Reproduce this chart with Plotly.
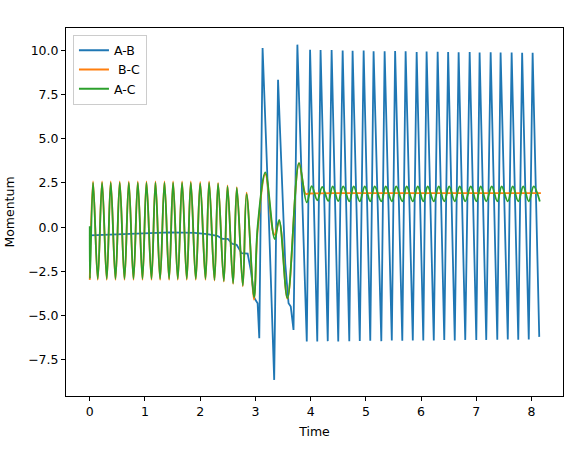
import plotly.graph_objects as go

# ---- data ----
# A-B : flat start, then large swings (extrema only)
ab_t = [0.0, 0.5, 1.0, 1.45, 1.9, 2.01, 2.13, 2.31, 2.40, 2.50, 2.58, 2.66, 2.75, 2.86, 2.92, 2.98, 3.04,
        3.07, 3.13, 3.23, 3.34, 3.41, 3.54, 3.60, 3.64, 3.69, 3.76,
        3.93, 3.99, 4.12, 4.18, 4.31, 4.38, 4.50, 4.58, 4.70, 4.76, 4.89, 4.96, 5.08, 5.14,
        5.28, 5.34, 5.47, 5.53, 5.66, 5.72, 5.85, 5.92, 6.04, 6.10, 6.23, 6.30, 6.42, 6.49,
        6.61, 6.68, 6.80, 6.88, 7.00, 7.06, 7.18, 7.26, 7.38, 7.44, 7.57, 7.64, 7.76, 7.83,
        7.95, 8.02, 8.14]
ab_v = [-0.47, -0.40, -0.36, -0.30, -0.32, -0.34, -0.40, -0.49, -0.66, -0.66, -0.94, -1.00, -1.47, -1.50, -2.50, -4.00, -4.30,
        -6.27, 10.12, 1.73, -8.63, 8.33, -2.04, -4.30, -4.49, -5.81, 10.31,
        -6.46, 10.02, -6.46, 10.00, -6.44, 10.00, -6.46, 9.98, -6.45, 9.97, -6.43, 9.98, -6.42, 9.93,
        -6.44, 9.94, -6.40, 9.95, -6.42, 9.93, -6.40, 9.90, -6.41, 9.92, -6.40, 9.91, -6.38, 9.90,
        -6.40, 9.88, -6.37, 9.90, -6.38, 9.87, -6.37, 9.88, -6.36, 9.86, -6.35, 9.86, -6.36, 9.85,
        -6.35, 9.85, -6.20]

# B-C
bc_t = [0.0, 0.060, 0.145, 0.223, 0.308, 0.380, 0.466, 0.543, 0.629, 0.707, 0.792, 0.870,
        0.955, 1.027, 1.118, 1.190, 1.274, 1.353, 1.437, 1.509, 1.594, 1.672, 1.757, 1.830,
        1.920, 2.000, 2.096, 2.161, 2.259, 2.324, 2.428, 2.495, 2.596, 2.663, 2.772, 2.839,
        2.976, 3.04, 3.18, 3.34, 3.43, 3.58, 3.79, 3.91, 3.97, 4.6, 5.6, 6.6, 7.6, 8.17]
bc_v = [-2.98, 2.58, -2.98, 2.58, -2.98, 2.58, -2.98, 2.58, -2.98, 2.58, -2.98, 2.58,
        -2.98, 2.58, -2.98, 2.58, -2.98, 2.58, -2.98, 2.58, -2.98, 2.58, -2.98, 2.58,
        -2.98, 2.55, -2.98, 2.58, -3.02, 2.50, -3.08, 2.36, -3.20, 2.26, -3.34, 1.95,
        -4.10, -0.20, 3.00, -0.44, 0.30, -4.05, 3.62, 1.88, 1.90, 1.92, 1.92, 1.92, 1.92, 1.92]

# A-C
ac_t = [0.0, 0.004, 0.060, 0.145, 0.223, 0.308, 0.380, 0.466, 0.543, 0.629, 0.707, 0.792, 0.870,
        0.955, 1.027, 1.118, 1.190, 1.274, 1.353, 1.437, 1.509, 1.594, 1.672, 1.757, 1.830,
        1.920, 2.000, 2.096, 2.161, 2.259, 2.324, 2.428, 2.495, 2.596, 2.663, 2.772, 2.839,
        2.976, 3.04, 3.18, 3.35, 3.43, 3.58, 3.79,
        3.93, 4.02, 4.12, 4.21, 4.32, 4.40, 4.50, 4.59, 4.70, 4.78, 4.89, 4.98, 5.08, 5.16,
        5.28, 5.36, 5.47, 5.55, 5.66, 5.74, 5.85, 5.94, 6.04, 6.12, 6.23, 6.32, 6.42, 6.51,
        6.61, 6.70, 6.80, 6.90, 7.00, 7.08, 7.18, 7.28, 7.38, 7.46, 7.57, 7.66, 7.76, 7.85,
        7.95, 8.04, 8.15]
ac_v = [0.05, -2.90, 2.52, -2.92, 2.52, -2.92, 2.52, -2.92, 2.52, -2.92, 2.52, -2.92, 2.52,
        -2.92, 2.52, -2.92, 2.52, -2.92, 2.52, -2.92, 2.52, -2.92, 2.52, -2.92, 2.52,
        -2.92, 2.47, -2.92, 2.52, -2.98, 2.45, -3.04, 2.30, -3.17, 2.21, -3.30, 1.87,
        -3.95, 0.03, 3.09, -0.68, 0.41, -4.01, 3.62,
        1.40, 2.32, 1.52, 2.27, 1.48, 2.30, 1.47, 2.30, 1.46, 2.30, 1.46, 2.30, 1.46, 2.30,
        1.46, 2.30, 1.46, 2.30, 1.46, 2.30, 1.46, 2.30, 1.46, 2.30, 1.46, 2.30, 1.46, 2.30,
        1.46, 2.30, 1.46, 2.30, 1.46, 2.30, 1.46, 2.30, 1.46, 2.30, 1.46, 2.30, 1.46, 2.30,
        1.46, 2.30, 1.45]

x_ticks = [0, 1, 2, 3, 4, 5, 6, 7, 8]
y_ticks = [-7.5, -5.0, -2.5, 0.0, 2.5, 5.0, 7.5, 10.0]

fig = go.Figure()
fig.add_trace(go.Scatter(x=ab_t, y=ab_v, mode='lines', name='A-B',
                         line=dict(color='#1f77b4', width=1.8)))
fig.add_trace(go.Scatter(x=bc_t, y=bc_v, mode='lines', name=' B-C',
                         line=dict(color='#ff7f0e', width=1.8, shape='spline', smoothing=1)))
fig.add_trace(go.Scatter(x=ac_t, y=ac_v, mode='lines', name='A-C',
                         line=dict(color='#2ca02c', width=1.8, shape='spline', smoothing=1)))

fsize = 12.5
axis_style = dict(showgrid=False, zeroline=False, showline=True, linecolor='black', linewidth=1,
                  mirror=True, ticks='outside', ticklen=4, tickcolor='black', automargin=False,
                  tickfont=dict(size=fsize, color='black'))

fig.update_xaxes(range=[-0.43, 8.57], tickvals=x_ticks, title_text='Time',
                 title_font=dict(size=fsize, color='black'), title_standoff=9, **axis_style)
fig.update_yaxes(range=[-9.54, 11.25], tickvals=y_ticks, tickformat='.1f', title_text='Momentum',
                 title_font=dict(size=fsize, color='black'), title_standoff=10, **axis_style)

fig.update_layout(
    width=587, height=453,
    margin=dict(l=66, r=24, t=28, b=57),
    paper_bgcolor='white', plot_bgcolor='white',
    font=dict(family='DejaVu Sans', size=fsize, color='black'),
    legend=dict(x=0.014, y=0.982, xanchor='left', yanchor='top',
                bgcolor='rgba(255,255,255,0.8)', bordercolor='#cccccc', borderwidth=1,
                font=dict(size=fsize), tracegroupgap=0),
)

# drop the browser's default 8px body margin so the figure sits at the page corner
fig.write_html("out.html", config={'displayModeBar': False},
               post_script="document.body.style.margin='0';")
